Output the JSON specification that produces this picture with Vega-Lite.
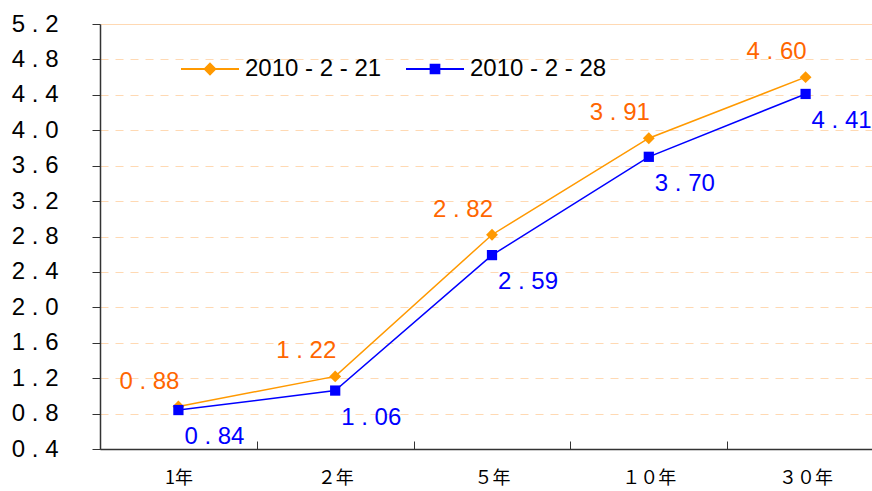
{
  "$schema": "https://vega.github.io/schema/vega-lite/v6.json",
  "width": 784,
  "height": 425,
  "autosize": {"type": "none"},
  "padding": {"left": 100, "top": 24, "right": 0, "bottom": 42},
  "background": "white",
  "config": {
    "view": {"stroke": null},
    "font": "Liberation Sans",
    "axis": {"domainColor": "#333333", "tickColor": "#333333", "labelColor": "#000000"}
  },
  "data": {
    "values": [
      {"term": "1年", "date": "2010-2-21", "value": 0.88},
      {"term": "２年", "date": "2010-2-21", "value": 1.22},
      {"term": "５年", "date": "2010-2-21", "value": 2.82},
      {"term": "１０年", "date": "2010-2-21", "value": 3.91},
      {"term": "３０年", "date": "2010-2-21", "value": 4.60},
      {"term": "1年", "date": "2010-2-28", "value": 0.84},
      {"term": "２年", "date": "2010-2-28", "value": 1.06},
      {"term": "５年", "date": "2010-2-28", "value": 2.59},
      {"term": "１０年", "date": "2010-2-28", "value": 3.70},
      {"term": "３０年", "date": "2010-2-28", "value": 4.41}
    ]
  },
  "encoding": {
    "x": {
      "field": "term", "type": "nominal", "sort": null,
      "scale": {"paddingInner": 0, "paddingOuter": 0},
      "axis": {
        "title": null, "labelAngle": 0, "tickBand": "extent", "tickSize": -8,
        "labelPadding": 28, "labelFontSize": 18, "labelFont": "Noto Sans CJK SC",
        "grid": false, "domainWidth": 1.5
      }
    },
    "y": {
      "field": "value", "type": "quantitative",
      "scale": {"domain": [0.4, 5.2], "nice": false, "zero": false},
      "axis": {
        "title": null, "values": [0.4, 0.8, 1.2, 1.6, 2.0, 2.4, 2.8, 3.2, 3.6, 4.0, 4.4, 4.8, 5.2],
        "format": ".1f", "labelExpr": "replace(datum.label, '.', ' . ')",
        "labelFontSize": 24, "labelPadding": 34, "tickSize": 8, "domainWidth": 1.5,
        "grid": true, "gridColor": "#FFD9B3", "gridWidth": 1,
        "gridDash": {"condition": {"test": "datum.value > 5.1", "value": []}, "value": [8, 7]}
      }
    },
    "color": {
      "field": "date", "type": "nominal",
      "scale": {"domain": ["2010-2-21", "2010-2-28"], "range": ["#FF9900", "#0000FF"]},
      "legend": {
        "title": null, "orient": "none", "legendX": 80, "legendY": 15, "direction": "horizontal",
        "labelFontSize": 24, "labelColor": "#000000", "symbolSize": 3364, "symbolStrokeWidth": 2,
        "labelOffset": 5, "columnPadding": 20,
        "labelExpr": "replace(datum.label, regexp('-', 'g'), ' - ')",
        "encode": {
          "symbols": {
            "update": {
              "shape": {"signal": "datum.value == '2010-2-21' ? 'M-1,0H1M0,-0.18L0.18,0L0,0.18L-0.18,0Z' : 'M-1,0H1M-0.15,-0.15H0.15V0.15H-0.15Z'"},
              "fill": {"signal": "datum.value == '2010-2-21' ? '#FF9900' : '#0000FF'"},
              "stroke": {"signal": "datum.value == '2010-2-21' ? '#FF9900' : '#0000FF'"},
              "opacity": {"value": 1},
              "fillOpacity": {"value": 1}
            }
          }
        }
      }
    }
  },
  "layer": [
    {"mark": {"type": "line", "strokeWidth": 1.5}},
    {
      "transform": [{"filter": "datum.date == '2010-2-21'"}],
      "mark": {"type": "point", "filled": true, "opacity": 1, "shape": "diamond", "size": 140}
    },
    {
      "transform": [{"filter": "datum.date == '2010-2-28'"}],
      "mark": {"type": "point", "filled": true, "opacity": 1, "shape": "square", "size": 105}
    },
    {
      "transform": [
        {"filter": "datum.date == '2010-2-21'"},
        {"calculate": "replace(format(datum.value, '.2f'), '.', ' . ')", "as": "lbl"}
      ],
      "mark": {"type": "text", "dx": -29, "dy": -25, "fontSize": 24, "color": "#FF6600"},
      "encoding": {"text": {"field": "lbl"}, "color": {"value": "#FF6600"}}
    },
    {
      "transform": [
        {"filter": "datum.date == '2010-2-28'"},
        {"calculate": "replace(format(datum.value, '.2f'), '.', ' . ')", "as": "lbl"}
      ],
      "mark": {"type": "text", "dx": 36, "dy": 27, "fontSize": 24, "color": "#0000FF"},
      "encoding": {"text": {"field": "lbl"}, "color": {"value": "#0000FF"}}
    }
  ]
}
